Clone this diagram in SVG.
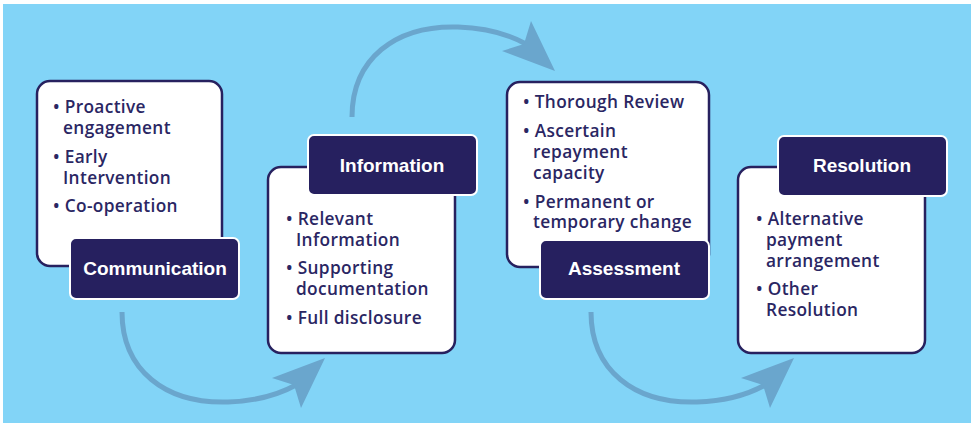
<svg xmlns="http://www.w3.org/2000/svg" width="971" height="423" viewBox="0 0 971 423">
<defs>
<style>
.card{fill:#ffffff;stroke:#27215f;stroke-width:2.5}
.tag{fill:#26205f;stroke:#ffffff;stroke-width:2}
.tagt{fill:#ffffff;font-family:"Liberation Sans",Arial,sans-serif;font-weight:bold;font-size:19px;text-anchor:middle}
.bt{fill:#2a2663;font-family:"Open Sans","Liberation Sans",sans-serif;font-weight:600;font-size:17.3px;letter-spacing:0.35px}
.arc{fill:none;stroke:#6aa6cd;stroke-width:5}
.head{fill:#6aa6cd}
</style>
<g id="arrowShape">
<path class="arc" d="M122,312 C122,370 165,404 228,402 C258,401 278,395 296,385"/>
<polygon class="head" points="325,358 272,378 294,385 301,408"/>
</g>
</defs>
<rect x="3" y="4" width="968" height="419" fill="#82d4f7"/>
<g id="connectors">
<use href="#arrowShape"/>
<use href="#arrowShape" transform="translate(230,429) scale(1,-1)"/>
<use href="#arrowShape" transform="translate(469,0)"/>
</g>
<g id="communication">
<rect class="card" x="37" y="81" width="185" height="185" rx="13"/>
<text class="bt"><tspan x="53" y="113">• Proactive</tspan><tspan x="63" y="134">engagement</tspan><tspan x="53" y="163">• Early</tspan><tspan x="63" y="184">Intervention</tspan><tspan x="53" y="212">• Co-operation</tspan></text>
<rect class="tag" x="70" y="238" width="169" height="61" rx="6"/>
<text class="tagt" x="155" y="275">Communication</text>
</g>
<g id="information">
<rect class="card" x="268" y="167" width="187" height="186" rx="13"/>
<text class="bt"><tspan x="286" y="225">• Relevant</tspan><tspan x="296" y="246">Information</tspan><tspan x="286" y="274">• Supporting</tspan><tspan x="296" y="295">documentation</tspan><tspan x="286" y="324">• Full disclosure</tspan></text>
<rect class="tag" x="308" y="135" width="169" height="60" rx="6"/>
<text class="tagt" x="392" y="172">Information</text>
</g>
<g id="assessment">
<rect class="card" x="507" y="82" width="202" height="185" rx="13"/>
<text class="bt"><tspan x="523" y="108">• Thorough Review</tspan><tspan x="523" y="137">• Ascertain</tspan><tspan x="533" y="158">repayment</tspan><tspan x="533" y="179">capacity</tspan><tspan x="523" y="208">• Permanent or</tspan><tspan x="533" y="228">temporary change</tspan></text>
<rect class="tag" x="540" y="240" width="169" height="59" rx="6"/>
<text class="tagt" x="624" y="275">Assessment</text>
</g>
<g id="resolution">
<rect class="card" x="738" y="167" width="187" height="186" rx="13"/>
<text class="bt"><tspan x="756" y="225">• Alternative</tspan><tspan x="766" y="246">payment</tspan><tspan x="766" y="267">arrangement</tspan><tspan x="756" y="295">• Other</tspan><tspan x="766" y="316">Resolution</tspan></text>
<rect class="tag" x="778" y="136" width="169" height="60" rx="6"/>
<text class="tagt" x="862" y="172">Resolution</text>
</g>
</svg>
